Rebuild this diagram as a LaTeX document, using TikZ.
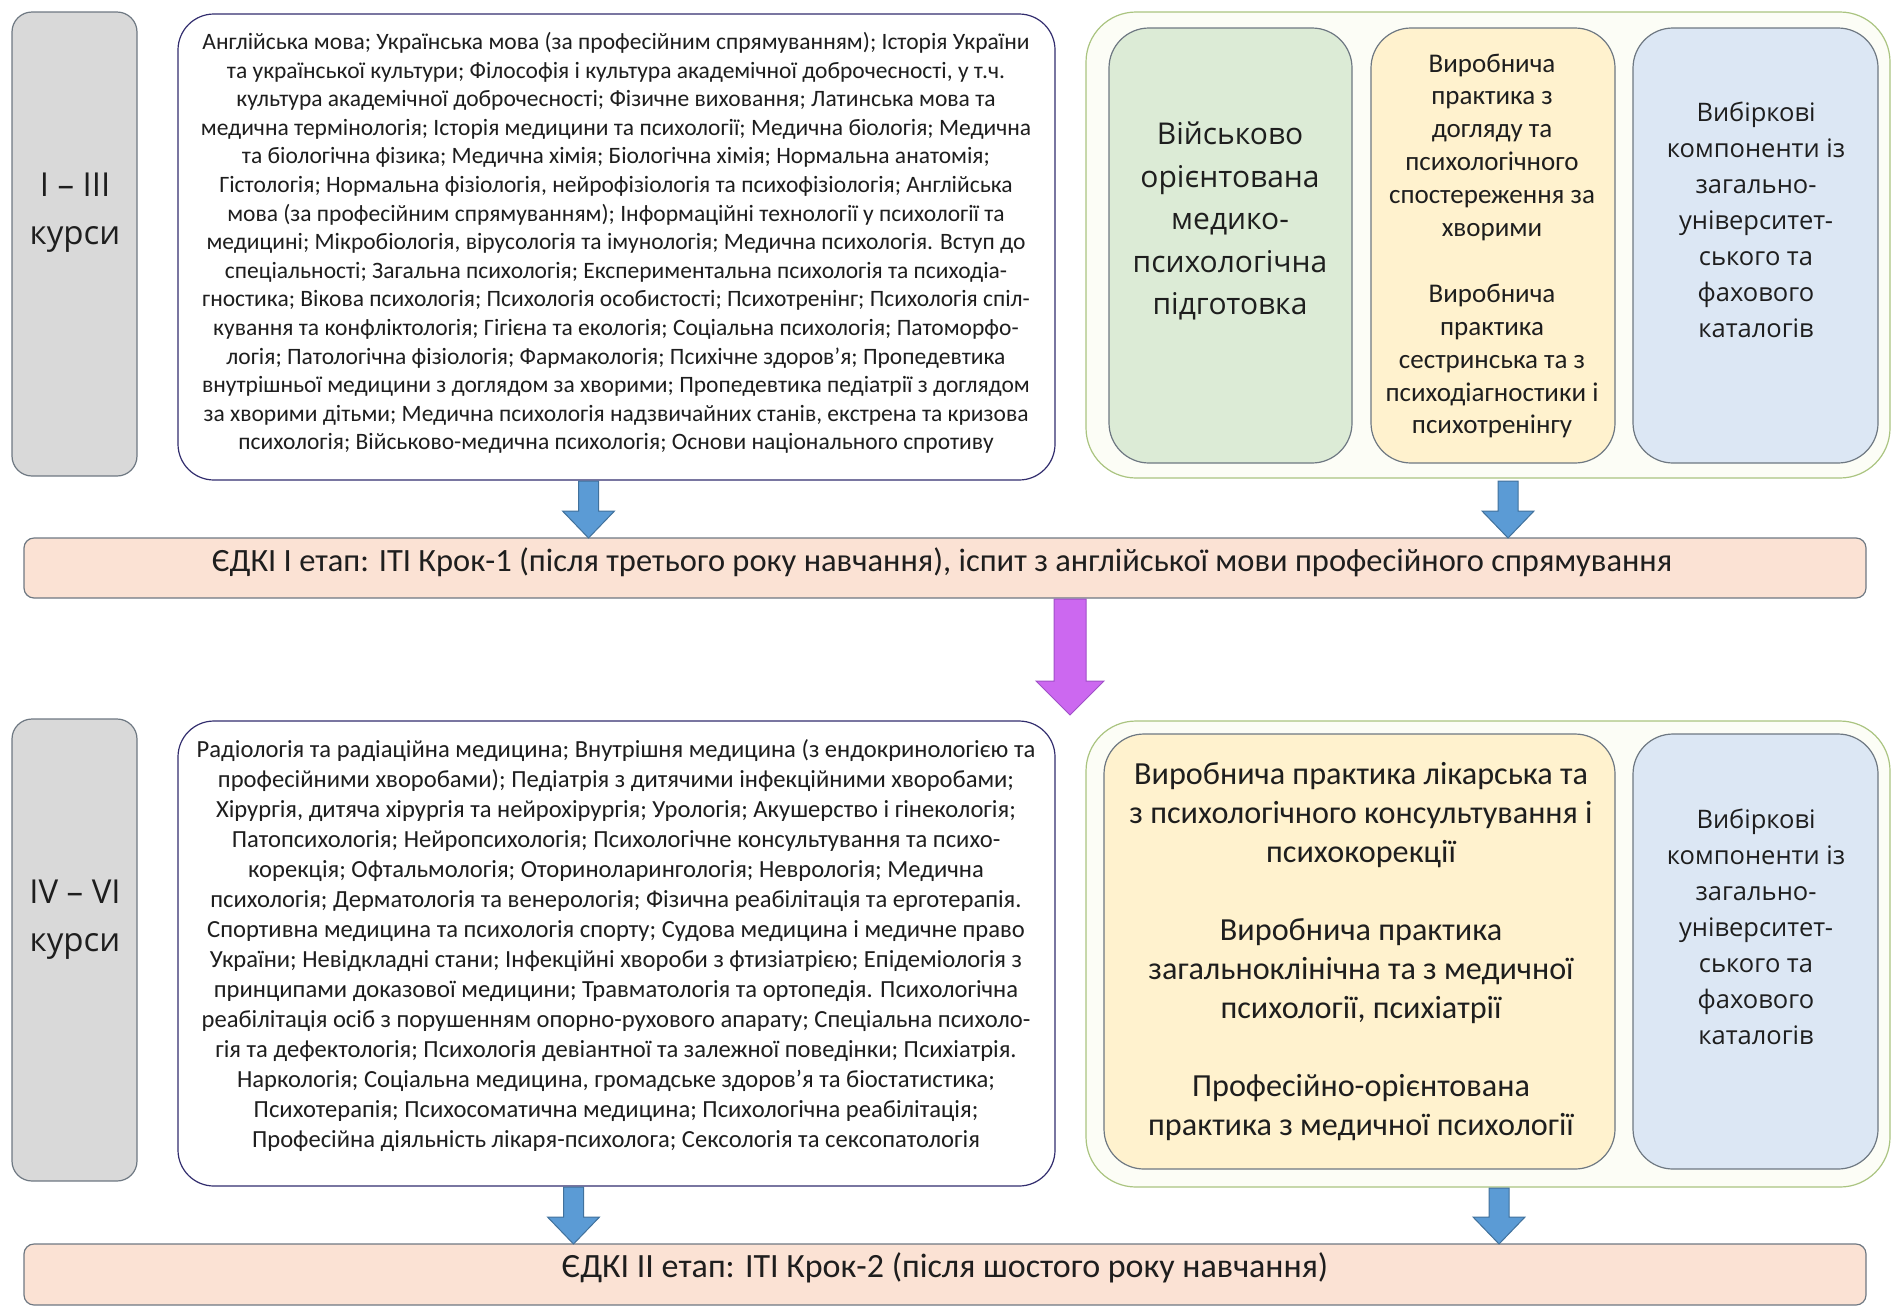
\documentclass[tikz,border=0pt]{standalone}
\usepackage{fontspec}
\setmainfont{Carlito}
\newfontfamily\segoe{Open Sans}
\usetikzlibrary{calc}
\definecolor{greyfill}{RGB}{217,217,217}
\definecolor{greyline}{RGB}{110,120,130}
\definecolor{navyline}{RGB}{50,45,110}
\definecolor{olivelin}{RGB}{170,196,128}
\definecolor{olivefill}{RGB}{252,253,246}
\definecolor{greenfill}{RGB}{220,235,214}
\definecolor{yellowfill}{RGB}{255,242,206}
\definecolor{bluefill}{RGB}{220,231,244}
\definecolor{peachfill}{RGB}{251,226,212}
\definecolor{arrowblue}{RGB}{91,155,213}
\definecolor{arrowblueline}{RGB}{65,113,156}
\definecolor{arrowpurple}{RGB}{204,104,240}
\definecolor{arrowpurpleline}{RGB}{160,80,200}
\definecolor{txt}{RGB}{30,30,30}
\newcommand\blockarrow[6]{\filldraw[#6] ($(#1)+(-#3,0)$) -- ($(#1)+(#3,0)$) -- ($(#2)+(#3,-#5)$) -- ($(#2)+(#4,-#5)$) -- (#2) -- ($(#2)+(-#4,-#5)$) -- ($(#2)+(-#3,-#5)$) -- cycle;}
\begin{document}
\begin{tikzpicture}[x=1pt,y=-1pt,
  every node/.style={inner sep=0pt,outer sep=0pt,text=txt},
  box/.style={anchor=north west,line width=1.2pt},
  greybox/.style={box,draw=greyline,fill=greyfill,rounded corners=20pt},
  listbox/.style={box,draw=navyline,fill=white,rounded corners=36pt},
  outerbox/.style={box,draw=olivelin,fill=olivefill,rounded corners=50pt},
  greenbox/.style={box,draw=greyline,fill=greenfill,rounded corners=40pt},
  yellowbox/.style={box,draw=greyline,fill=yellowfill,rounded corners=40pt},
  bluebox/.style={box,draw=greyline,fill=bluefill,rounded corners=40pt},
  barbox/.style={box,draw=greyline,fill=peachfill,rounded corners=10pt},
  coursetext/.style={align=center,font=\segoe\fontsize{33}{48}\selectfont},
  listtext/.style={align=center,font=\fontsize{23.5}{28.6}\selectfont},
  listtextb/.style={align=center,font=\fontsize{24.6}{30}\selectfont},
  segtext/.style={align=center,font=\segoe\fontsize{30}{42.5}\selectfont},
  segsmall/.style={align=center,font=\segoe\fontsize{25.5}{36}\selectfont},
  practext/.style={align=center,font=\fontsize{27}{32.9}\selectfont},
  practextb/.style={align=center,font=\fontsize{32.2}{39}\selectfont},
  bartext/.style={font=\fontsize{32.5}{36}\selectfont},
  bartextb/.style={font=\fontsize{34}{38}\selectfont},
  blueArrow/.style={fill=arrowblue,draw=arrowblueline,line width=1pt},
  purpleArrow/.style={fill=arrowpurple,draw=arrowpurpleline,line width=1pt}]
\useasboundingbox (0,0) rectangle (1894,1307);

% ---------- row 1 ----------
\node[greybox,minimum width=125pt,minimum height=464pt] (g1) at (12,12) {};
\node[coursetext] (g1t) at (75,213) {I – III\\курси};

\node[listbox,minimum width=877pt,minimum height=466pt] (t1) at (178,14) {};
\node[listtext] (t1t) at (616,243) {Англійська мова; Українська мова (за професійним спрямуванням); Історія України\\
та української культури; Філософія і культура академічної доброчесності, у т.ч.\\
культура академічної доброчесності; Фізичне виховання; Латинська мова та\\
медична термінологія; Історія медицини та психології; Медична біологія; Медична\\
та біологічна фізика; Медична хімія; Біологічна хімія; Нормальна анатомія;\\
Гістологія; Нормальна фізіологія, нейрофізіологія та психофізіологія; Англійська\\
мова (за професійним спрямуванням); Інформаційні технології у психології та\\
медицині; Мікробіологія, вірусологія та імунологія; Медична психологія. Вступ до\\
спеціальності; Загальна психологія; Експериментальна психологія та психодіа-\\
гностика; Вікова психологія; Психологія особистості; Психотренінг; Психологія спіл-\\
кування та конфліктологія; Гігієна та екологія; Соціальна психологія; Патоморфо-\\
логія; Патологічна фізіологія; Фармакологія; Психічне здоров’я; Пропедевтика\\
внутрішньої медицини з доглядом за хворими; Пропедевтика педіатрії з доглядом\\
за хворими дітьми; Медична психологія надзвичайних станів, екстрена та кризова\\
психологія; Військово-медична психологія; Основи національного спротиву};

\node[outerbox,minimum width=804pt,minimum height=466pt] (o1) at (1086,12) {};
\node[greenbox,minimum width=243pt,minimum height=435pt] (gr1) at (1109,28) {};
\node[segtext] (gr1t) at (1230,221) {Військово\\орієнтована\\медико-\\психологічна\\підготовка};
\node[yellowbox,minimum width=244pt,minimum height=435pt] (y1) at (1371,28) {};
\node[practext] (y1t) at (1492,246) {Виробнича\\практика з\\догляду та\\психологічного\\спостереження за\\хворими\\[32.9pt]Виробнича\\практика\\сестринська та з\\психодіагностики і\\психотренінгу};
\node[bluebox,minimum width=245pt,minimum height=435pt] (bl1) at (1633,28) {};
\node[segsmall] (bl1t) at (1756,220) {Вибіркові\\компоненти із\\загально-\\університет-\\ського та\\фахового\\каталогів};

\node[barbox,minimum width=1842pt,minimum height=60pt] (b1) at (24,538) {};
\node[bartext] (b1t) at (942,562) {ЄДКІ І етап: ІТІ Крок-1 (після третього року навчання), іспит з англійської мови професійного спрямування};

% ---------- row 2 ----------
\node[greybox,minimum width=125pt,minimum height=462pt] (g2) at (12,719) {};
\node[coursetext] (g2t) at (75,920) {IV – VI\\курси};

\node[listbox,minimum width=877pt,minimum height=465pt] (t2) at (178,721) {};
\node[listtextb] (t2t) at (616,946) {Радіологія та радіаційна медицина; Внутрішня медицина (з ендокринологією та\\
професійними хворобами); Педіатрія з дитячими інфекційними хворобами;\\
Хірургія, дитяча хірургія та нейрохірургія; Урологія; Акушерство і гінекологія;\\
Патопсихологія; Нейропсихологія; Психологічне консультування та психо-\\
корекція; Офтальмологія; Оториноларингологія; Неврологія; Медична\\
психологія; Дерматологія та венерологія; Фізична реабілітація та ерготерапія.\\
Спортивна медицина та психологія спорту; Судова медицина і медичне право\\
України; Невідкладні стани; Інфекційні хвороби з фтизіатрією; Епідеміологія з\\
принципами доказової медицини; Травматологія та ортопедія. Психологічна\\
реабілітація осіб з порушенням опорно-рухового апарату; Спеціальна психоло-\\
гія та дефектологія; Психологія девіантної та залежної поведінки; Психіатрія.\\
Наркологія; Соціальна медицина, громадське здоров’я та біостатистика;\\
Психотерапія; Психосоматична медицина; Психологічна реабілітація;\\
Професійна діяльність лікаря-психолога; Сексологія та сексопатологія};

\node[outerbox,minimum width=804pt,minimum height=466pt] (o2) at (1086,721) {};
\node[yellowbox,minimum width=511pt,minimum height=435pt] (y2) at (1104,734) {};
\node[practextb] (y2t) at (1361,952) {Виробнича практика лікарська та\\з психологічного консультування і\\психокорекції\\[39pt]Виробнича практика\\загальноклінічна та з медичної\\психології, психіатрії\\[39pt]Професійно-орієнтована\\практика з медичної психології};
\node[bluebox,minimum width=245pt,minimum height=435pt] (bl2) at (1633,734) {};
\node[segsmall] (bl2t) at (1756,927) {Вибіркові\\компоненти із\\загально-\\університет-\\ського та\\фахового\\каталогів};

\node[barbox,minimum width=1842pt,minimum height=61pt] (b2) at (24,1244) {};
\node[bartextb] (b2t) at (945,1268) {ЄДКІ ІІ етап: ІТІ Крок-2 (після шостого року навчання)};

% ---------- arrows ----------
\coordinate (a1s) at ($(t1.south)+(-28,1)$);
\coordinate (a1e) at (a1s |- b1.north);
\blockarrow{a1s}{a1e}{10}{26}{27}{blueArrow}
\coordinate (a2s) at ($(o1.south)+(20,3)$);
\coordinate (a2e) at (a2s |- b1.north);
\blockarrow{a2s}{a2e}{10}{26}{27}{blueArrow}
\coordinate (p1s) at ($(b1.south)+(125,1)$);
\coordinate (p1e) at ($(p1s)+(0,116)$);
\blockarrow{p1s}{p1e}{16}{34}{34}{purpleArrow}
\coordinate (a3s) at ($(t2.south)+(-43,1)$);
\coordinate (a3e) at (a3s |- b2.north);
\blockarrow{a3s}{a3e}{10}{26}{27}{blueArrow}
\coordinate (a4s) at ($(o2.south)+(11,1)$);
\coordinate (a4e) at (a4s |- b2.north);
\blockarrow{a4s}{a4e}{10}{26}{27}{blueArrow}
\end{tikzpicture}
\end{document}
